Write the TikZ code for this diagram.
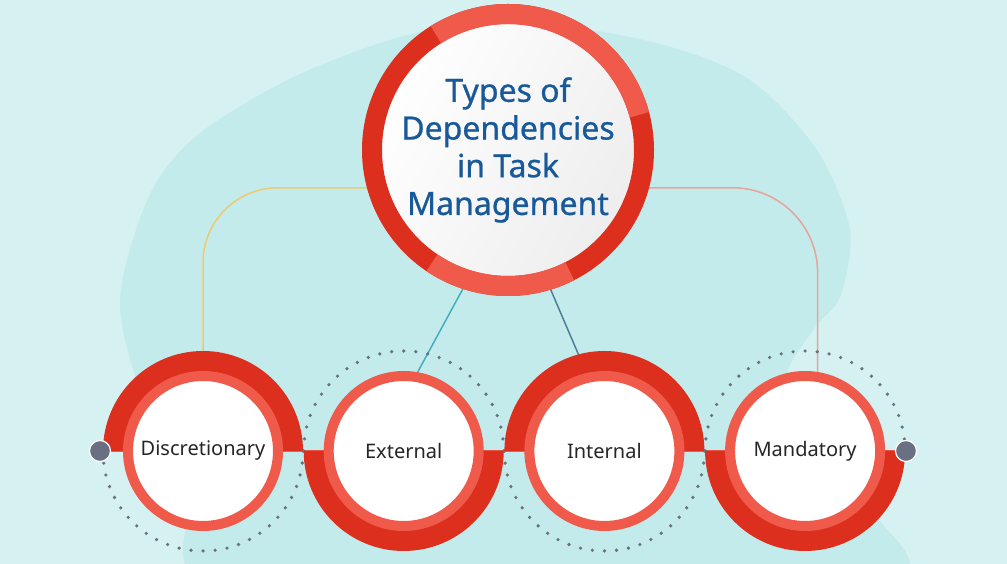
\documentclass[tikz,border=0pt]{standalone}
\usepackage{fontspec}
\setmainfont{Noto Sans}
\newfontfamily\titlefont{Noto Sans}[FakeBold=0.8]

\definecolor{bgpale}{HTML}{D6F1F1}
\definecolor{bgblob}{HTML}{C4EBEB}
\definecolor{ringdark}{HTML}{DC2F1E}
\definecolor{ringlight}{HTML}{EF5A4A}
\definecolor{titleblue}{HTML}{18599A}
\definecolor{labelgray}{HTML}{262626}
\definecolor{dotgray}{HTML}{6A6F82}
\definecolor{linkyellow}{HTML}{EBCB72}
\definecolor{linkpink}{HTML}{E6A49C}
\definecolor{linkteal}{HTML}{45AEBE}
\definecolor{linksteel}{HTML}{4F7F97}

\pgfdeclarelayer{back}
\pgfdeclarelayer{links}
\pgfsetlayers{back,links,main}

\tikzset{
  ring/.style={circle, draw=ringlight, line width=10pt, fill=white, minimum size=150pt,
    inner sep=0pt, text=labelgray, font=\fontsize{20}{24}\selectfont},
  enddot/.style={circle, fill=dotgray, draw=white, line width=1.2pt, minimum size=21pt, inner sep=0pt},
  link/.style={line width=1.5pt},
  dots/.style={dotgray, line width=3.6pt, line cap=round, dash pattern=on 0pt off 12.08pt}
}

\begin{document}
\begin{tikzpicture}[x=1pt,y=1pt,node distance=200.7pt]
  \useasboundingbox (0,0) rectangle (1007,564);

  % main topic
  \node (title) at (508,414) [circle, draw=ringdark, line width=20pt, minimum size=272pt, inner sep=0pt,
    left color=white, right color=black!7, shading angle=60, align=center, text=titleblue,
    font=\titlefont\fontsize{32}{37.7}\selectfont] {Types of\\Dependencies\\in Task\\Management};
  \draw[ringlight, line width=20pt] (title.center) ++(15:136) arc (15:122:136);
  \draw[ringlight, line width=20pt] (title.center) ++(236:136) arc (236:297:136);

  % the four types
  \node (disc) at (203,113) [ring] {Discretionary};
  \node (ext) [ring, right of=disc] {External};
  \node (int) [ring, right of=ext] {Internal};
  \node (mand) [ring, right of=int] {Mandatory};

  \node (ldot) at (100,113) [enddot] {};
  \node (rdot) at (906,113) [enddot] {};

  \begin{pgfonlayer}{back}
    \fill[bgpale] (0,0) rectangle (1007,564);
    \begin{scope}
      \clip (0,0) rectangle (1007,564);
      \fill[bgblob] plot[smooth cycle] coordinates {(120,264) (150,370) (200,431) (300,490) (420,532)
        (540,540) (660,520) (750,484) (817,414) (850,334) (840,267) (813,234) (785,177) (830,90)
        (877,47) (892,-20) (550,-60) (210,-20) (187,64) (143,164)};
    \end{scope}
  \end{pgfonlayer}

  \begin{pgfonlayer}{links}
    \draw[ringlight, line width=2pt] (ldot) -- (rdot);
    \draw[link, linkyellow, rounded corners=75pt] (title.195.5) -| (disc.north);
    \draw[link, linkpink, rounded corners=85pt] (title.-15.5) -| (mand.81);
    \draw[link, linkteal] (title.252.5) -- (ext.80);
    \draw[link, linksteel] (title.287.7) -- (int.103);
    \foreach \n/\s in {disc/1, ext/-1, int/1, mand/-1} {
      \draw[dots] (\n.center) ++(100,0) arc (0:-180*\s:100);
      \fill[ringdark] (\n.center) ++(100,0) arc (0:180*\s:100) -- ++(22,0) arc (180*\s:0:78) -- cycle;
    }
  \end{pgfonlayer}
\end{tikzpicture}
\end{document}
